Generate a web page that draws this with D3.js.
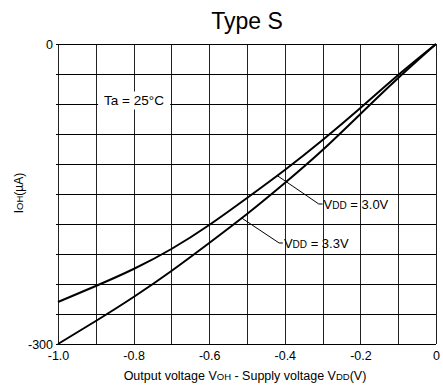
<!DOCTYPE html>
<html>
<head>
<meta charset="utf-8">
<script src="https://cdn.jsdelivr.net/npm/d3@7/dist/d3.min.js"></script>
<style>
  html, body { margin: 0; padding: 0; background: #fff; }
  svg { display: block; font-family: "Liberation Sans", Arial, sans-serif; }
</style>
</head>
<body>
<svg id="chart" width="443" height="389"></svg>
<script>
// Output voltage relative to supply (V)
const voltage = [-1.0, -0.9, -0.8, -0.7, -0.6, -0.5, -0.4, -0.3, -0.2, -0.1, 0];
// IOH (µA) for each supply voltage
const ioh30 = [-258, -242, -225, -205, -181, -154, -126, -96, -64, -31, 0];
const ioh33 = [-300, -277, -253, -227, -199, -170, -139, -106, -70, -34, 0];

const xTickLabels = [-1.0, -0.8, -0.6, -0.4, -0.2, 0];
const yTickLabels = [0, -300];
const xGrid = [-1.0, -0.9, -0.8, -0.7, -0.6, -0.5, -0.4, -0.3, -0.2, -0.1, 0];
const yGrid = [0, -30, -60, -90, -120, -150, -180, -210, -240, -270, -300];

const margin = { left: 58, top: 44, right: 7, bottom: 45 };
const W = 443, H = 389;
const iw = W - margin.left - margin.right;   // 378
const ih = H - margin.top - margin.bottom;   // 300

const svg = d3.select("#chart");
const g = svg.append("g").attr("transform", `translate(${margin.left},${margin.top})`);

const x = d3.scaleLinear().domain([-1, 0]).range([0, iw]);
const y = d3.scaleLinear().domain([-300, 0]).range([ih, 0]);

// Grid
const grid = g.append("g");
grid.selectAll("line.v").data(xGrid).join("line").attr("class", "v")
  .attr("x1", d => Math.round(x(d)) + 0.5).attr("x2", d => Math.round(x(d)) + 0.5)
  .attr("y1", 0).attr("y2", ih)
  .attr("stroke", "#222").attr("stroke-width", 1);
grid.selectAll("line.h").data(yGrid).join("line").attr("class", "h")
  .attr("x1", -2).attr("x2", iw)
  .attr("y1", d => Math.round(y(d)) + 0.5).attr("y2", d => Math.round(y(d)) + 0.5)
  .attr("stroke", "#000").attr("stroke-width", 1);

// Temperature label with white backing
const taGroup = g.append("g");
const ta = taGroup.append("text")
  .attr("x", x(-0.878)).attr("y", y(-60) + 0.5)
  .attr("font-size", 13.5).attr("fill", "#000")
  .text("Ta = 25°C");
const bb = ta.node().getBBox();
taGroup.insert("rect", () => ta.node())
  .attr("x", bb.x - 6).attr("y", bb.y - 1)
  .attr("width", bb.width + 12).attr("height", bb.height + 3)
  .attr("fill", "#fff");

// Tick labels
const xAxis = d3.axisBottom(x).tickValues(xTickLabels).tickSize(0).tickPadding(7)
  .tickFormat(d => d === 0 ? "0" : d3.format(".1f")(d).replace("−", "-"));
const xa = g.append("g").attr("transform", `translate(0,${ih})`).call(xAxis);
xa.select(".domain").remove();
xa.selectAll("text").attr("font-size", 12.5).attr("fill", "#000")
  .attr("font-family", "'Liberation Sans', Arial, sans-serif");

const yAxis = d3.axisLeft(y).tickValues(yTickLabels).tickSize(0).tickPadding(5)
  .tickFormat(d => d3.format("d")(d).replace("−", "-"));
const ya = g.append("g").call(yAxis);
ya.select(".domain").remove();
ya.selectAll("text").attr("font-size", 12.5).attr("fill", "#000")
  .attr("font-family", "'Liberation Sans', Arial, sans-serif");

// Curves
const line = d3.line()
  .x((d, i) => x(voltage[i]))
  .y(d => y(d))
  .curve(d3.curveNatural);

[ioh30, ioh33].forEach(series => {
  g.append("path").datum(series)
    .attr("d", line)
    .attr("fill", "none")
    .attr("stroke", "#000")
    .attr("stroke-width", 2);
});

// Series labels with leader lines
function interp(series, v) {
  return y(d3.scaleLinear().domain(voltage).range(series)(v));
}
const callouts = [
  { series: ioh30, at: -0.42, elbow: [-0.31, -160], text: [-0.30, -160], sup: "3.0V" },
  { series: ioh33, at: -0.514, elbow: [-0.415, -199], text: [-0.405, -199], sup: "3.3V" }
];
callouts.forEach(c => {
  g.append("polyline")
    .attr("points", [
      [x(c.at), interp(c.series, c.at)],
      [x(c.elbow[0]), y(c.elbow[1])],
      [x(c.text[0]), y(c.text[1])]
    ].map(p => p.join(",")).join(" "))
    .attr("fill", "none").attr("stroke", "#000").attr("stroke-width", 1);
  const t = g.append("text")
    .attr("x", x(c.text[0]) + 1).attr("y", y(c.text[1]) + 4.5)
    .attr("font-size", 13).attr("fill", "#000");
  t.append("tspan").text("V");
  t.append("tspan").attr("font-size", 10).text("DD");
  t.append("tspan").text(" = " + c.sup);
});

// Title
svg.append("text")
  .attr("x", margin.left + iw / 2).attr("y", 29)
  .attr("text-anchor", "middle")
  .attr("font-size", 23).attr("fill", "#000")
  .text("Type S");

// X axis title
const xt = svg.append("text")
  .attr("x", margin.left + iw / 2 - 2).attr("y", 380)
  .attr("text-anchor", "middle")
  .attr("font-size", 12.5).attr("fill", "#000");
xt.append("tspan").text("Output voltage V");
xt.append("tspan").attr("font-size", 9.5).text("OH");
xt.append("tspan").text(" - Supply voltage V");
xt.append("tspan").attr("font-size", 9.5).text("DD");
xt.append("tspan").text("(V)");

// Y axis title
const yt = svg.append("text")
  .attr("transform", `translate(23,193) rotate(-90)`)
  .attr("text-anchor", "middle")
  .attr("font-size", 12).attr("fill", "#000");
yt.append("tspan").text("I");
yt.append("tspan").attr("font-size", 9.5).text("OH");
yt.append("tspan").text("(µA)");
</script>
</body>
</html>
